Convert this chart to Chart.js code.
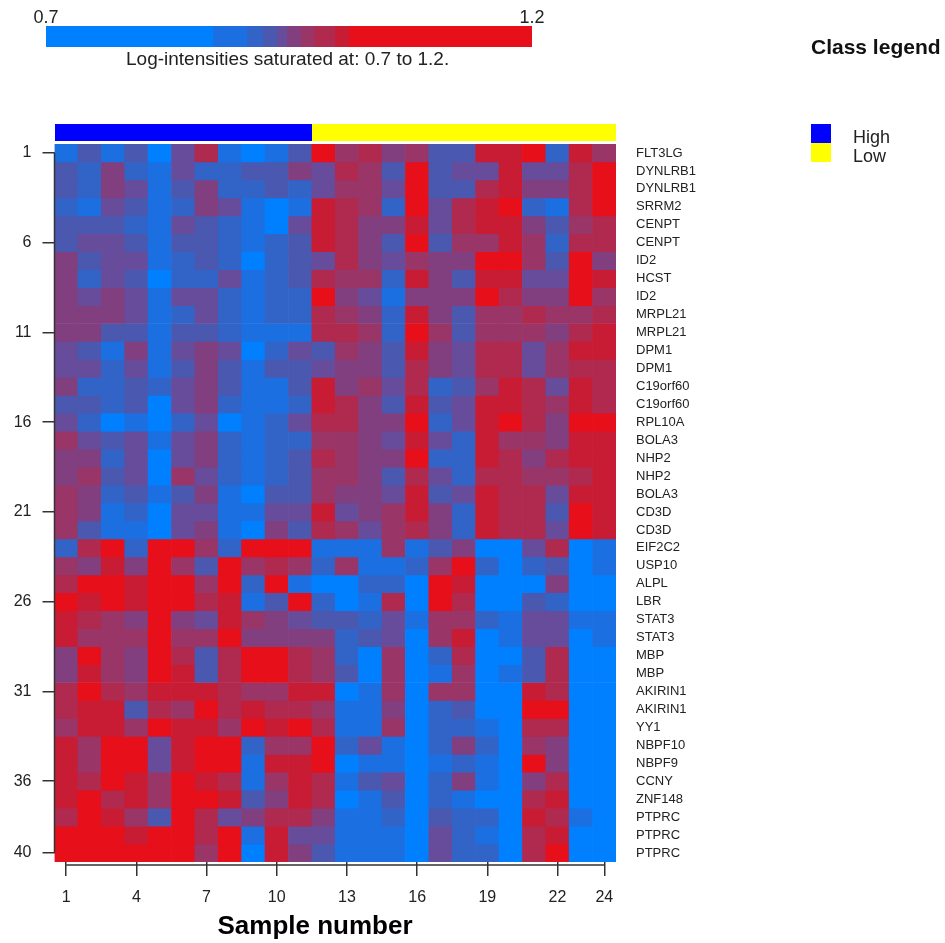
<!DOCTYPE html>
<html>
<head>
<meta charset="utf-8">
<script src="https://cdn.jsdelivr.net/npm/chart.js@4.4.0/dist/chart.umd.min.js"></script>
<style>
  body { margin: 0; background: #fff; }
  canvas { display: block; }
</style>
</head>
<body>
<canvas id="heatmap" width="945" height="943"></canvas>
<script>
const sampleLabels = Array.from({ length: 24 }, (_, i) => String(i + 1));
const sampleTicks = [1, 4, 7, 10, 13, 16, 19, 22, 24];
const rowTicks = [1, 6, 11, 16, 21, 26, 31, 36, 40];
const sampleClass = ['High', 'High', 'High', 'High', 'High', 'High', 'High', 'High', 'High', 'High', 'High',
  'Low', 'Low', 'Low', 'Low', 'Low', 'Low', 'Low', 'Low', 'Low', 'Low', 'Low', 'Low', 'Low'];
const classNames = ['High', 'Low'];
const classColors = ['#0000ff', '#ffff00'];

const geneNames = ['FLT3LG', 'DYNLRB1', 'DYNLRB1', 'SRRM2', 'CENPT', 'CENPT', 'ID2', 'HCST', 'ID2', 'MRPL21',
  'MRPL21', 'DPM1', 'DPM1', 'C19orf60', 'C19orf60', 'RPL10A', 'BOLA3', 'NHP2', 'NHP2', 'BOLA3',
  'CD3D', 'CD3D', 'EIF2C2', 'USP10', 'ALPL', 'LBR', 'STAT3', 'STAT3', 'MBP', 'MBP',
  'AKIRIN1', 'AKIRIN1', 'YY1', 'NBPF10', 'NBPF9', 'CCNY', 'ZNF148', 'PTPRC', 'PTPRC', 'PTPRC'];

// colour key: saturated 0.7 .. 1.2, step breaks
const keyMin = 0.7, keyMax = 1.2;
const keyBreaks = [0.872, 0.907, 0.923, 0.938, 0.948, 0.962, 0.976, 0.997, 1.012];
const keyColors = ['#0080ff', '#1c6fe0', '#3264c8', '#4a58b0', '#664c9a', '#813f80', '#9a3568', '#b0294f', '#c81c34', '#e60f1a'];

// log-intensities, one row per gene, columns = samples 1..24
const logIntensity = [
  [0.89,0.93,0.89,0.93,0.82,0.943,0.986,0.89,0.82,0.89,0.93,1.08,0.969,0.986,0.955,0.969,0.93,0.93,1.005,1.005,1.08,0.915,1.005,0.969],
  [0.93,0.915,0.955,0.915,0.89,0.943,0.915,0.915,0.93,0.93,0.955,0.943,0.986,0.969,0.93,1.08,0.93,0.943,0.943,1.005,0.943,0.943,0.986,1.08],
  [0.93,0.915,0.955,0.943,0.89,0.93,0.955,0.915,0.915,0.93,0.915,0.943,0.969,0.969,0.943,1.08,0.93,0.93,0.986,1.005,0.955,0.955,0.986,1.08],
  [0.915,0.89,0.943,0.93,0.89,0.915,0.955,0.943,0.89,0.82,0.89,1.005,0.986,0.969,0.915,1.08,0.943,0.986,1.005,1.08,0.915,0.89,0.986,1.08],
  [0.93,0.93,0.93,0.915,0.89,0.943,0.93,0.915,0.89,0.82,0.943,1.005,0.986,0.955,0.955,1.005,0.943,0.986,1.005,1.005,0.955,0.93,0.969,0.986],
  [0.93,0.943,0.943,0.93,0.89,0.93,0.93,0.915,0.89,0.915,0.93,1.005,0.986,0.955,0.93,1.08,0.93,0.969,0.969,1.005,0.969,0.915,0.986,0.986],
  [0.955,0.93,0.943,0.943,0.89,0.915,0.93,0.915,0.82,0.915,0.93,0.943,0.986,0.955,0.943,0.969,0.955,0.955,1.08,1.08,0.969,0.93,1.08,0.955],
  [0.955,0.915,0.943,0.93,0.82,0.915,0.915,0.943,0.89,0.915,0.93,0.986,0.969,0.969,0.915,1.005,0.955,0.93,1.005,1.005,0.943,0.943,1.08,1.005],
  [0.955,0.943,0.955,0.943,0.89,0.943,0.943,0.915,0.89,0.915,0.915,1.08,0.955,0.943,0.89,0.955,0.955,0.955,1.08,0.986,0.955,0.955,1.08,0.969],
  [0.955,0.955,0.955,0.943,0.89,0.915,0.943,0.915,0.89,0.915,0.915,0.986,0.969,0.955,0.915,1.005,0.955,0.93,0.969,0.969,0.986,0.969,0.969,0.986],
  [0.955,0.955,0.93,0.93,0.89,0.93,0.93,0.915,0.89,0.89,0.89,0.986,0.986,0.969,0.915,1.08,0.969,0.93,0.969,0.969,0.969,0.955,0.986,1.005],
  [0.943,0.93,0.89,0.955,0.89,0.943,0.955,0.943,0.82,0.915,0.943,0.93,0.969,0.955,0.93,1.005,0.955,0.943,0.986,0.986,0.943,0.969,1.005,1.005],
  [0.943,0.943,0.915,0.943,0.89,0.93,0.955,0.93,0.89,0.93,0.93,0.943,0.955,0.955,0.93,0.986,0.955,0.943,0.986,0.986,0.943,0.969,0.986,0.986],
  [0.955,0.915,0.915,0.93,0.915,0.943,0.955,0.93,0.89,0.89,0.93,1.005,0.955,0.969,0.943,0.986,0.915,0.93,0.969,1.005,0.986,0.943,1.005,0.986],
  [0.93,0.93,0.915,0.93,0.82,0.943,0.955,0.915,0.89,0.89,0.915,1.005,0.986,0.955,0.93,1.005,0.93,0.943,1.005,1.005,0.986,0.969,1.005,0.986],
  [0.943,0.915,0.82,0.89,0.82,0.915,0.943,0.82,0.89,0.915,0.943,0.986,0.986,0.955,0.955,1.08,0.915,0.943,1.005,1.08,0.986,0.955,1.08,1.08],
  [0.969,0.943,0.93,0.943,0.89,0.943,0.955,0.915,0.89,0.915,0.915,0.969,0.969,0.955,0.943,1.005,0.943,0.915,1.005,0.969,0.969,0.955,1.005,1.005],
  [0.955,0.955,0.915,0.943,0.82,0.943,0.955,0.915,0.89,0.915,0.93,0.986,0.969,0.955,0.955,1.08,0.915,0.915,1.005,0.986,0.955,0.986,1.005,1.005],
  [0.955,0.969,0.93,0.943,0.82,0.969,0.943,0.915,0.89,0.915,0.93,0.969,0.969,0.955,0.93,0.986,0.943,0.915,0.986,0.986,0.969,0.969,0.986,1.005],
  [0.969,0.955,0.915,0.93,0.89,0.93,0.955,0.89,0.82,0.93,0.93,0.969,0.955,0.955,0.943,1.005,0.93,0.943,1.005,0.986,0.986,0.943,1.005,1.005],
  [0.969,0.955,0.89,0.915,0.82,0.943,0.943,0.89,0.89,0.943,0.943,1.005,0.943,0.955,0.969,1.005,0.955,0.915,1.005,0.986,0.986,0.93,1.08,1.005],
  [0.969,0.93,0.89,0.89,0.82,0.943,0.955,0.89,0.82,0.955,0.93,0.986,0.969,0.943,0.969,0.986,0.955,0.915,1.005,0.986,0.986,0.943,1.08,1.005],
  [0.915,0.986,1.08,0.915,1.08,1.08,0.969,0.915,1.08,1.08,1.08,0.89,0.89,0.89,0.969,0.89,0.93,0.955,0.82,0.82,0.943,0.986,0.82,0.89],
  [0.969,0.955,1.005,0.955,1.08,0.969,0.93,1.08,0.969,0.986,0.969,0.915,0.969,0.89,0.89,0.915,0.969,1.08,0.915,0.82,0.915,0.93,0.82,0.89],
  [0.986,1.08,1.08,1.005,1.08,1.08,0.969,1.08,0.915,1.08,0.89,0.82,0.82,0.915,0.915,0.82,1.08,1.005,0.82,0.82,0.82,0.955,0.82,0.82],
  [1.08,1.005,1.08,1.005,1.08,1.08,0.986,1.005,0.89,0.93,1.08,0.915,0.82,0.89,0.986,0.82,1.08,0.986,0.82,0.82,0.93,0.915,0.82,0.82],
  [1.005,0.986,0.969,0.955,1.08,0.955,0.943,1.005,0.969,0.955,0.943,0.93,0.93,0.915,0.943,0.89,0.969,0.969,0.915,0.89,0.943,0.943,0.89,0.89],
  [1.005,0.969,0.969,0.969,1.08,0.969,0.969,1.08,0.955,0.955,0.955,0.955,0.915,0.93,0.943,0.82,0.969,1.005,0.82,0.89,0.943,0.943,0.82,0.89],
  [0.955,1.08,0.969,0.955,1.08,0.986,0.93,0.986,1.08,1.08,0.986,0.969,0.915,0.82,0.969,0.82,0.915,0.986,0.82,0.82,0.93,0.986,0.82,0.82],
  [0.955,1.005,0.969,0.955,1.08,1.005,0.93,0.986,1.08,1.08,0.986,0.969,0.93,0.82,0.969,0.82,0.89,0.969,0.82,0.89,0.93,0.986,0.82,0.82],
  [0.986,1.08,0.986,0.969,1.005,1.005,1.005,0.986,0.969,0.969,1.005,1.005,0.82,0.89,0.969,0.82,0.969,0.969,0.82,0.82,1.005,0.986,0.82,0.82],
  [0.986,1.005,1.005,0.93,0.986,0.969,1.08,0.986,1.005,0.986,0.986,0.969,0.89,0.89,0.955,0.82,0.915,0.93,0.82,0.82,1.08,1.08,0.82,0.82],
  [0.969,1.005,1.005,0.969,1.08,1.005,1.005,0.969,1.08,1.005,1.08,0.986,0.89,0.89,0.969,0.82,0.915,0.915,0.89,0.82,0.986,0.986,0.82,0.82],
  [1.005,0.969,1.08,1.08,0.943,1.005,1.08,1.08,0.915,0.969,0.969,1.08,0.915,0.943,0.89,0.82,0.915,0.955,0.915,0.82,0.969,0.955,0.82,0.82],
  [1.005,0.969,1.08,1.08,0.943,1.005,1.08,1.08,0.89,1.005,1.005,1.08,0.82,0.89,0.89,0.82,0.89,0.915,0.89,0.82,1.08,0.955,0.82,0.82],
  [1.005,0.986,1.08,1.005,0.969,1.08,1.005,0.986,0.89,0.969,1.005,0.986,0.89,0.93,0.943,0.82,0.915,0.955,0.89,0.82,0.955,0.986,0.82,0.82],
  [1.005,1.08,0.986,1.005,0.969,1.08,1.08,1.005,0.93,0.955,1.005,0.986,0.82,0.89,0.93,0.82,0.915,0.89,0.82,0.82,0.986,1.005,0.82,0.82],
  [0.986,1.08,1.005,0.969,0.93,1.08,0.986,0.943,0.955,0.986,0.986,0.955,0.89,0.89,0.915,0.82,0.93,0.915,0.915,0.82,1.005,0.986,0.89,0.82],
  [1.08,1.08,1.08,1.005,1.08,1.08,0.986,1.08,0.89,1.005,0.943,0.943,0.89,0.89,0.89,0.82,0.943,0.915,0.89,0.82,0.986,1.005,0.82,0.82],
  [1.08,1.08,1.08,1.08,1.08,1.08,0.969,1.08,0.82,1.005,0.955,0.93,0.89,0.89,0.89,0.82,0.943,0.915,0.915,0.82,0.986,1.08,0.82,0.82]
];

const FONT = '"Liberation Sans", Arial, sans-serif';

function colourFor(v) {
  for (let i = 0; i < keyBreaks.length; i++) {
    if (v < keyBreaks[i]) return keyColors[i];
  }
  return keyColors[keyColors.length - 1];
}

// each gene row is one stacked dataset of unit-height cells
const datasets = logIntensity.map((row, r) => ({
  label: geneNames[r],
  data: row.map(() => 1),
  backgroundColor: row.map(colourFor),
  borderWidth: 0,
  barPercentage: 1,
  categoryPercentage: 1
}));

const extras = {
  id: 'extras',
  beforeDraw(chart) {
    const ctx = chart.ctx;
    ctx.save();
    ctx.fillStyle = '#fff';
    ctx.fillRect(0, 0, chart.width, chart.height);
    ctx.restore();
  },
  afterDraw(chart) {
    const { ctx, chartArea, scales } = chart;
    const x2 = scales.x2, y = scales.y;
    ctx.save();

    // axis lines (R style: from first to last tick)
    ctx.strokeStyle = '#333';
    ctx.lineWidth = 1.5;
    ctx.beginPath();
    ctx.moveTo(chartArea.left, y.getPixelForValue(rowTicks[0] - 0.5));
    ctx.lineTo(chartArea.left, y.getPixelForValue(rowTicks[rowTicks.length - 1] - 0.5));
    ctx.moveTo(x2.getPixelForValue(sampleTicks[0]), chartArea.bottom + 3);
    ctx.lineTo(x2.getPixelForValue(sampleTicks[sampleTicks.length - 1]), chartArea.bottom + 3);
    ctx.stroke();

    // class bar above the heatmap, one block per run of equal class
    let start = 0;
    for (let i = 1; i <= sampleClass.length; i++) {
      if (i === sampleClass.length || sampleClass[i] !== sampleClass[start]) {
        const a = Math.round(x2.getPixelForValue(start + 0.5));
        const b = Math.round(x2.getPixelForValue(i + 0.5));
        ctx.fillStyle = classColors[classNames.indexOf(sampleClass[start])];
        ctx.fillRect(a, 124, b - a, 17);
        start = i;
      }
    }

    // colour key
    const kx = 46, kw = 486, ky = 26, kh = 21;
    const edges = [keyMin, ...keyBreaks, keyMax];
    for (let i = 0; i < keyColors.length; i++) {
      const a = Math.round(kx + (edges[i] - keyMin) / (keyMax - keyMin) * kw);
      const b = Math.round(kx + (edges[i + 1] - keyMin) / (keyMax - keyMin) * kw);
      ctx.fillStyle = keyColors[i];
      ctx.fillRect(a, ky, b - a, kh);
    }
    ctx.fillStyle = '#222';
    ctx.font = '18px ' + FONT;
    ctx.textAlign = 'center';
    ctx.textBaseline = 'alphabetic';
    ctx.fillText(String(keyMin), kx, 23);
    ctx.fillText(String(keyMax), kx + kw, 23);
    ctx.font = '19px ' + FONT;
    ctx.textAlign = 'left';
    ctx.fillText('Log-intensities saturated at: ' + keyMin + ' to ' + keyMax + '.', 126, 65);

    // class legend
    ctx.font = 'bold 21px ' + FONT;
    ctx.fillStyle = '#111';
    ctx.fillText('Class legend', 811, 54);
    classNames.forEach((c, i) => {
      ctx.fillStyle = classColors[i];
      ctx.fillRect(811, 124 + i * 19, 20, 19);
      ctx.fillStyle = '#222';
      ctx.font = '18px ' + FONT;
      ctx.fillText(c, 853, 143 + i * 19);
    });

    // x axis title
    ctx.font = 'bold 26px ' + FONT;
    ctx.textAlign = 'center';
    ctx.textBaseline = 'middle';
    ctx.fillStyle = '#000';
    ctx.fillText('Sample number', 315, 927);
    ctx.restore();
  }
};

const tickFont = { family: FONT, size: 16 };

new Chart(document.getElementById('heatmap').getContext('2d'), {
  type: 'bar',
  data: { labels: sampleLabels, datasets },
  options: {
    responsive: false,
    animation: false,
    events: [],
    layout: { padding: { top: 144, left: 0, right: 0, bottom: 0 } },
    plugins: { legend: { display: false }, tooltip: { enabled: false } },
    scales: {
      x: { type: 'category', stacked: true, display: false },
      y: {
        type: 'linear', stacked: true, position: 'left', min: 0, max: 40, reverse: true,
        afterFit: s => { s.width = 54.5; },
        afterBuildTicks: s => { s.ticks = rowTicks.map(r => ({ value: r - 0.5 })); },
        ticks: { callback: v => String(v + 0.5), font: tickFont, color: '#222', padding: 11, autoSkip: false },
        grid: { drawOnChartArea: false, tickLength: 12, color: '#333', lineWidth: 1.5 },
        border: { display: false }
      },
      y2: {
        type: 'linear', position: 'right', min: 0, max: 40, reverse: true,
        afterFit: s => { s.width = 329; },
        afterBuildTicks: s => { s.ticks = geneNames.map((g, i) => ({ value: i + 0.5 })); },
        ticks: { callback: (v, i) => geneNames[i], font: { family: FONT, size: 13 }, color: '#222', padding: 20, autoSkip: false },
        grid: { display: false, drawTicks: false },
        border: { display: false }
      },
      x2: {
        type: 'linear', position: 'bottom', min: 0.5, max: 24.5, offset: false,
        afterFit: s => { s.height = 81; },
        afterBuildTicks: s => { s.ticks = sampleTicks.map(t => ({ value: t })); },
        ticks: { callback: v => String(v), font: tickFont, color: '#222', padding: 12, autoSkip: false, maxRotation: 0 },
        grid: { offset: false, drawOnChartArea: false, tickLength: 14, color: '#333', lineWidth: 1.5 },
        border: { display: false }
      }
    }
  },
  plugins: [extras]
});
</script>
</body>
</html>
